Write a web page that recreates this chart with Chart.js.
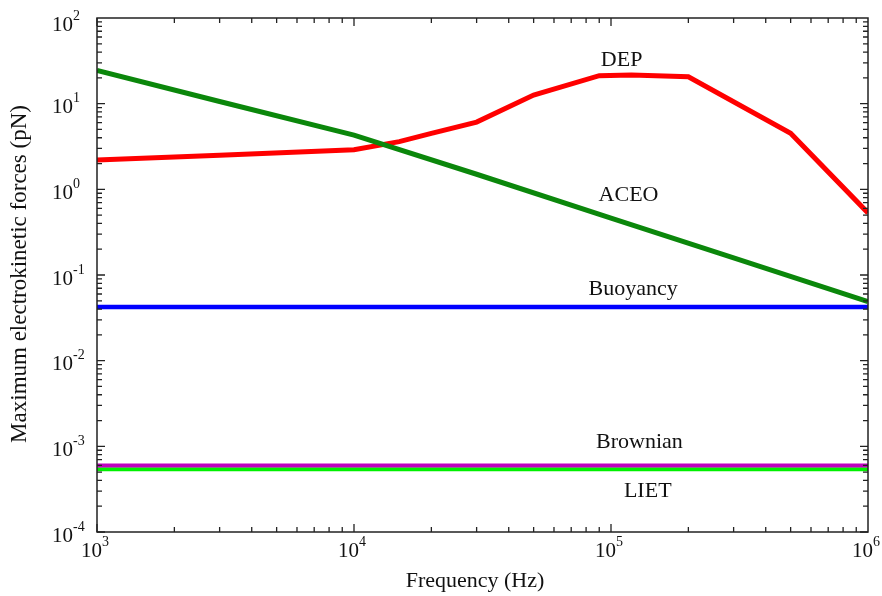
<!DOCTYPE html>
<html>
<head>
<meta charset="utf-8">
<script src="https://cdn.jsdelivr.net/npm/chart.js@4"></script>
<style>
  body { margin: 0; background: #fff; }
  #wrap { width: 882px; height: 596px; position: relative; }
</style>
</head>
<body>
<div id="wrap"><canvas id="chart"></canvas></div>
<script>
// frequencies (Hz) and force values (pN)
const depFreq = [1e3, 3e3, 1e4, 1.5e4, 2e4, 3e4, 5e4, 9e4, 1.2e5, 2e5, 5e5, 1e6];
const depForce = [2.2, 2.5, 2.9, 3.6, 4.5, 6.1, 12.6, 21.2, 21.6, 20.6, 4.5, 0.53];

const aceoFreq = [1e3, 3e3, 1e4, 3e4, 1e5, 3e5, 1e6];
const aceoForce = [24.5, 10.6, 4.3, 1.5, 0.46, 0.158, 0.049];

const flatFreq = [1e3, 1e6];
const buoyancyForce = [0.0423, 0.0423];
const brownianForce = [5.97e-4, 5.97e-4];
const lietForce = [5.4e-4, 5.4e-4];

const xTickExp = [3, 4, 5, 6];
const yTickExp = [-4, -3, -2, -1, 0, 1, 2];

// curve names and where they are written (frequency, force)
const curveLabels = [
  { text: 'DEP', x: 1.1e5, y: 32 },
  { text: 'ACEO', x: 1.17e5, y: 0.86 },
  { text: 'Buoyancy', x: 1.22e5, y: 0.0687 },
  { text: 'Brownian', x: 1.29e5, y: 1.12e-3 },
  { text: 'LIET', x: 1.39e5, y: 3.0e-4 }
];

const SERIF = '"Liberation Serif", "Times New Roman", serif';

function toPoints(xs, ys) {
  return xs.map(function (x, i) { return { x: x, y: ys[i] }; });
}

function drawPower(ctx, exp, x, y, align) {
  const base = '10';
  const sup = String(exp);
  ctx.font = '21px ' + SERIF;
  const wb = ctx.measureText(base).width;
  ctx.font = '14px ' + SERIF;
  const ws = ctx.measureText(sup).width;
  let left;
  if (align === 'right') left = x - wb;
  else left = x - (wb + ws) / 2;
  ctx.textBaseline = 'middle';
  ctx.textAlign = 'left';
  ctx.font = '21px ' + SERIF;
  ctx.fillText(base, left, y);
  ctx.font = '14px ' + SERIF;
  ctx.fillText(sup, left + wb, y - 9);
}

const axesPlugin = {
  id: 'axesPlugin',
  afterDraw(chart) {
    const ctx = chart.ctx;
    const area = chart.chartArea;
    const xs = chart.scales.x;
    const ys = chart.scales.y;
    ctx.save();
    ctx.strokeStyle = '#222';
    ctx.fillStyle = '#111';
    ctx.lineWidth = 1.5;
    ctx.strokeRect(area.left, area.top, area.right - area.left, area.bottom - area.top);

    // inward ticks on all four sides
    ctx.lineWidth = 1.3;
    ctx.beginPath();
    for (let e = 3; e < 6; e++) {
      for (let m = 1; m < 10; m++) {
        const px = xs.getPixelForValue(m * Math.pow(10, e));
        const len = m === 1 ? 8 : 5;
        ctx.moveTo(px, area.bottom); ctx.lineTo(px, area.bottom - len);
        ctx.moveTo(px, area.top); ctx.lineTo(px, area.top + len);
      }
    }
    for (let e = -4; e < 2; e++) {
      for (let m = 1; m < 10; m++) {
        const py = ys.getPixelForValue(m * Math.pow(10, e));
        const len = m === 1 ? 8 : 5;
        ctx.moveTo(area.left, py); ctx.lineTo(area.left + len, py);
        ctx.moveTo(area.right, py); ctx.lineTo(area.right - len, py);
      }
    }
    ctx.stroke();

    xTickExp.forEach(function (e) {
      drawPower(ctx, e, xs.getPixelForValue(Math.pow(10, e)) - 2, area.bottom + 19, 'center');
    });
    yTickExp.forEach(function (e) {
      const py = ys.getPixelForValue(Math.pow(10, e)) + (e === 2 ? 7 : 4);
      drawPower(ctx, e, area.left - 24, py, 'right');
    });

    // axis titles
    ctx.font = '22px ' + SERIF;
    ctx.textAlign = 'center';
    ctx.textBaseline = 'middle';
    ctx.fillText('Frequency (Hz)', 475, 581);
    ctx.save();
    ctx.translate(20, 274);
    ctx.rotate(-Math.PI / 2);
    ctx.font = '23px ' + SERIF;
    ctx.fillText('Maximum electrokinetic forces (pN)', 0, 0);
    ctx.restore();

    // curve names
    ctx.font = '22px ' + SERIF;
    curveLabels.forEach(function (l) {
      ctx.fillText(l.text, xs.getPixelForValue(l.x), ys.getPixelForValue(l.y));
    });
    ctx.restore();
  }
};

function line(label, data, color, width, order) {
  return {
    label: label,
    data: data,
    borderColor: color,
    backgroundColor: color,
    borderWidth: width,
    showLine: true,
    pointRadius: 0,
    tension: 0,
    order: order
  };
}

new Chart(document.getElementById('chart'), {
  type: 'scatter',
  data: {
    datasets: [
      line('DEP', toPoints(depFreq, depForce), '#ff0000', 5, 2),
      line('ACEO', toPoints(aceoFreq, aceoForce), '#0b870b', 5, 1),
      line('Buoyancy', toPoints(flatFreq, buoyancyForce), '#0000ff', 4.5, 3),
      line('LIET', toPoints(flatFreq, lietForce), '#00f000', 4, 5),
      line('Brownian', toPoints(flatFreq, brownianForce), '#c000c0', 4, 4)
    ]
  },
  options: {
    responsive: true,
    maintainAspectRatio: false,
    animation: false,
    layout: { padding: { left: 97, right: 14, top: 18, bottom: 64 } },
    plugins: { legend: { display: false }, tooltip: { enabled: false } },
    scales: {
      x: { type: 'logarithmic', min: 1e3, max: 1e6, display: false },
      y: { type: 'logarithmic', min: 1e-4, max: 1e2, display: false }
    }
  },
  plugins: [axesPlugin]
});
</script>
</body>
</html>
